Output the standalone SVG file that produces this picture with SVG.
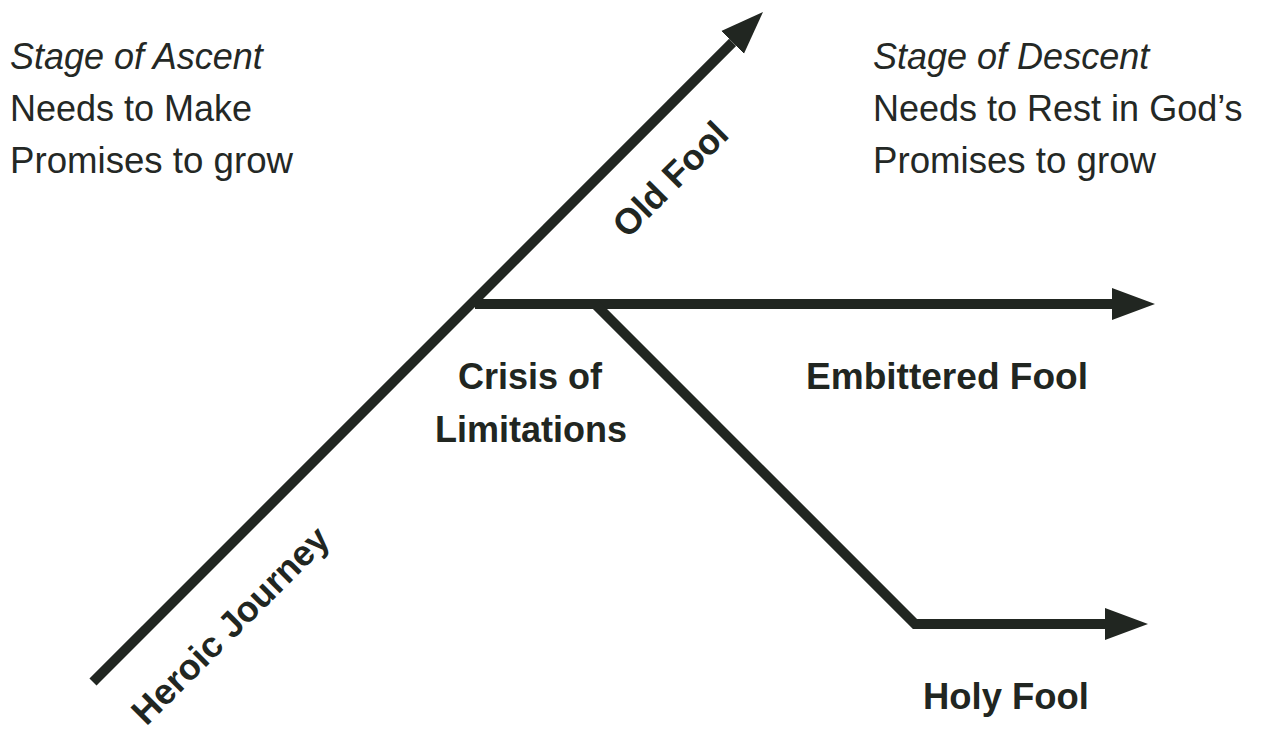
<svg xmlns="http://www.w3.org/2000/svg" width="1262" height="730" viewBox="0 0 1262 730">
  <style>
    .bg { fill: #ffffff; }
    .conn { fill: none; stroke: #212621; stroke-width: 10; stroke-linejoin: miter; stroke-linecap: butt; }
    .reg { font-family: "Liberation Sans", Arial, sans-serif; font-size: 36px; fill: #242825; }
    .ital { font-style: italic; }
    .bold { font-family: "Liberation Sans", Arial, sans-serif; font-size: 36px; font-weight: bold; fill: #212621; }
  </style>
  <defs>
    <marker id="arrow" markerUnits="userSpaceOnUse" markerWidth="44" markerHeight="34" refX="0" refY="16" orient="auto" viewBox="0 0 44 32">
      <path d="M0,0 L43,16 L0,32 Z" fill="#212621"/>
    </marker>
  </defs>
  <rect class="bg" x="0" y="0" width="1262" height="730"/>

  <g id="connectors">
    <line id="heroic-line" class="conn" x1="93" y1="682" x2="732.6" y2="42.4" marker-end="url(#arrow)"/>
    <line id="embittered-line" class="conn" x1="475" y1="304" x2="1112" y2="304" marker-end="url(#arrow)"/>
    <polyline id="holy-line" class="conn" points="596,305 915,624 1105,624" marker-end="url(#arrow)"/>
  </g>

  <g id="ascent">
    <text class="reg ital" x="10" y="69">Stage of Ascent</text>
    <text class="reg" x="10" y="121">Needs to Make</text>
    <text class="reg" x="10" y="173" textLength="283" lengthAdjust="spacingAndGlyphs">Promises to grow</text>
  </g>

  <g id="descent">
    <text class="reg ital" x="873" y="69">Stage of Descent</text>
    <text class="reg" x="873" y="121">Needs to Rest in God’s</text>
    <text class="reg" x="873" y="173" textLength="283" lengthAdjust="spacingAndGlyphs">Promises to grow</text>
  </g>

  <g id="old-fool">
    <text class="bold" text-anchor="middle" transform="translate(679,188) rotate(-45)">Old Fool</text>
  </g>

  <g id="heroic-journey">
    <text class="bold" text-anchor="middle" transform="translate(239,634) rotate(-45)">Heroic Journey</text>
  </g>

  <g id="crisis">
    <text class="bold" text-anchor="middle" x="530" y="389">Crisis of</text>
    <text class="bold" text-anchor="middle" x="531" y="442">Limitations</text>
  </g>

  <g id="embittered-fool">
    <text class="bold" x="806" y="389" textLength="282" lengthAdjust="spacingAndGlyphs">Embittered Fool</text>
  </g>

  <g id="holy-fool">
    <text class="bold" x="923" y="709" textLength="166" lengthAdjust="spacingAndGlyphs">Holy Fool</text>
  </g>
</svg>
